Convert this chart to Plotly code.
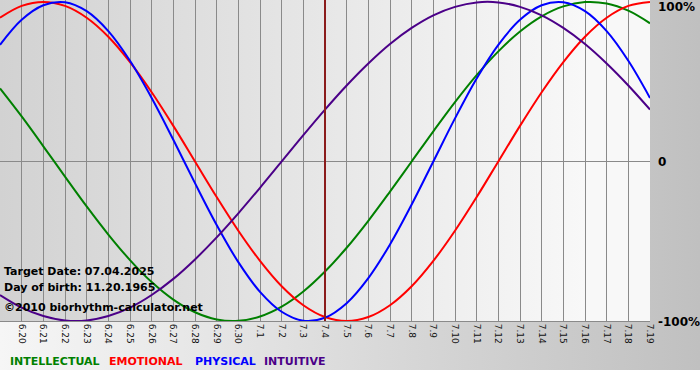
import base64
import plotly.graph_objects as go

# ---------------- data ----------------
day_labels = ["6.19", "6.20", "6.21", "6.22", "6.23", "6.24", "6.25", "6.26", "6.27", "6.28",
              "6.29", "6.30", "7.1", "7.2", "7.3", "7.4", "7.5", "7.6", "7.7", "7.8",
              "7.9", "7.10", "7.11", "7.12", "7.13", "7.14", "7.15", "7.16", "7.17", "7.18", "7.19"]

intellectual = [0.458, 0.282, 0.095, -0.095, -0.282, -0.458, -0.618, -0.756, -0.866, -0.945,
                -0.990, -0.999, -0.972, -0.910, -0.815, -0.690, -0.541, -0.372, -0.189, 0.000,
                0.189, 0.372, 0.541, 0.690, 0.815, 0.910, 0.972, 0.999, 0.990, 0.945, 0.866]

emotional = [0.901, 0.975, 1.000, 0.975, 0.901, 0.782, 0.623, 0.434, 0.223, 0.000,
             -0.223, -0.434, -0.623, -0.782, -0.901, -0.975, -1.000, -0.975, -0.901, -0.782,
             -0.623, -0.434, -0.223, 0.000, 0.223, 0.434, 0.623, 0.782, 0.901, 0.975, 1.000]

physical = [0.731, 0.888, 0.979, 0.998, 0.942, 0.817, 0.631, 0.398, 0.136, -0.136,
            -0.398, -0.631, -0.817, -0.942, -0.998, -0.979, -0.888, -0.731, -0.520, -0.270,
            0.000, 0.270, 0.520, 0.731, 0.888, 0.979, 0.998, 0.942, 0.817, 0.631, 0.398]

intuitive = [-0.837, -0.916, -0.969, -0.997, -0.997, -0.969, -0.916, -0.837, -0.736, -0.614,
             -0.476, -0.325, -0.165, 0.000, 0.165, 0.325, 0.476, 0.614, 0.736, 0.837,
             0.916, 0.969, 0.997, 0.997, 0.969, 0.916, 0.837, 0.736, 0.614, 0.476, 0.325]

target_label = "7.4"
y_tick_text = ["100%", "0", "-100%"]
y_tick_vals = [1, 0, -1]

series = [
    ("INTELLECTUAL", intellectual, "#008000"),
    ("EMOTIONAL", emotional, "#ff0000"),
    ("PHYSICAL", physical, "#0000ff"),
    ("INTUITIVE", intuitive, "#4b0088"),
]

# ---------------- geometry ----------------
W, H = 700, 380
L, R, T, B = 0, 50, 0, 59
PW, PH = W - L - R, H - T - B


def px_x(px):
    return (px - L) / PW


def px_y(py):
    return 1 - (py - T) / PH


def svg_uri(svg):
    return "data:image/svg+xml;base64," + base64.b64encode(svg.encode()).decode()


paper_svg = (
    '<svg xmlns="http://www.w3.org/2000/svg" width="700" height="380" preserveAspectRatio="none">'
    '<defs><linearGradient id="g" x1="0" y1="0" x2="1" y2="0">'
    '<stop offset="0" stop-color="#f6f6f6"/><stop offset="1" stop-color="#c0c0c0"/>'
    '</linearGradient></defs>'
    '<rect x="0" y="0" width="700" height="370" fill="url(#g)"/>'
    '<rect x="0" y="370" width="700" height="10" fill="#ffffff"/></svg>'
)
plot_svg = (
    '<svg xmlns="http://www.w3.org/2000/svg" width="650" height="321" preserveAspectRatio="none">'
    '<defs><linearGradient id="h" x1="0" y1="0" x2="1" y2="0">'
    '<stop offset="0" stop-color="#d2d2d2"/><stop offset="0.9" stop-color="#f8f8f8"/>'
    '<stop offset="1" stop-color="#f8f8f8"/>'
    '</linearGradient></defs>'
    '<rect x="0" y="0" width="650" height="321" fill="url(#h)"/></svg>'
)

xs = list(range(len(day_labels)))

fig = go.Figure()
for name, vals, col in series:
    fig.add_trace(go.Scatter(x=xs, y=vals, mode="lines", name=name,
                             line=dict(color=col, width=2, shape="spline", smoothing=1.0),
                             hoverinfo="skip", showlegend=False))

ti = day_labels.index(target_label)
fig.add_shape(type="line", xref="x", yref="paper", x0=ti, x1=ti, y0=0, y1=1,
              line=dict(color="#8b1c1c", width=2))

annotations = []
for txt, v in zip(y_tick_text, y_tick_vals):
    py = {1: 7, 0: 162, -1: 322}[v]
    annotations.append(dict(text="<b>%s</b>" % txt, xref="paper", yref="paper",
                            x=px_x(656), y=px_y(py), xanchor="left", yanchor="middle",
                            showarrow=False, font=dict(family="DejaVu Sans", size=12, color="#000")))

info = [("Target Date: 07.04.2025", 271), ("Day of birth: 11.20.1965", 287),
        ("©2010 biorhythm-calculator.net", 307)]
for txt, py in info:
    annotations.append(dict(text="<b>%s</b>" % txt, xref="paper", yref="paper",
                            x=px_x(2), y=px_y(py), xanchor="left", yanchor="middle",
                            showarrow=False, font=dict(family="DejaVu Sans", size=11, color="#000")))

legend_x = [8, 107, 193, 262]
for (name, _, col), lx in zip(series, legend_x):
    annotations.append(dict(text="<b>%s</b>" % name, xref="paper", yref="paper",
                            x=px_x(lx), y=px_y(361), xanchor="left", yanchor="middle",
                            showarrow=False, font=dict(family="DejaVu Sans", size=11, color=col)))

fig.update_layout(
    width=W, height=H,
    margin=dict(l=L, r=R, t=T, b=B, pad=0),
    paper_bgcolor="#ffffff",
    plot_bgcolor="rgba(0,0,0,0)",
    showlegend=False,
    images=[
        dict(source=svg_uri(paper_svg), xref="paper", yref="paper", x=px_x(0), y=px_y(0),
             sizex=W / PW, sizey=H / PH, xanchor="left", yanchor="top", sizing="stretch",
             layer="below"),
        dict(source=svg_uri(plot_svg), xref="paper", yref="paper", x=0, y=1,
             sizex=1, sizey=1, xanchor="left", yanchor="top", sizing="stretch",
             layer="below"),
    ],
    xaxis=dict(range=[0, len(day_labels) - 1], tickvals=xs, ticktext=day_labels,
               tickangle=90, showgrid=True, gridcolor="#8a8a8a", gridwidth=1,
               zeroline=False, showline=True, linecolor="#8a8a8a", linewidth=1,
               ticks="", tickfont=dict(family="DejaVu Sans", size=9, color="#111"),
               fixedrange=True),
    yaxis=dict(range=[-1.0, 1.012], tickvals=[0], showticklabels=False, showgrid=True,
               gridcolor="#8a8a8a", gridwidth=1, zeroline=False, showline=False,
               ticks="", fixedrange=True),
    annotations=annotations,
)

fig.write_html("out.html", config={"displayModeBar": False, "staticPlot": True},
               post_script="document.body.style.margin='0';document.body.style.overflow='hidden';")
